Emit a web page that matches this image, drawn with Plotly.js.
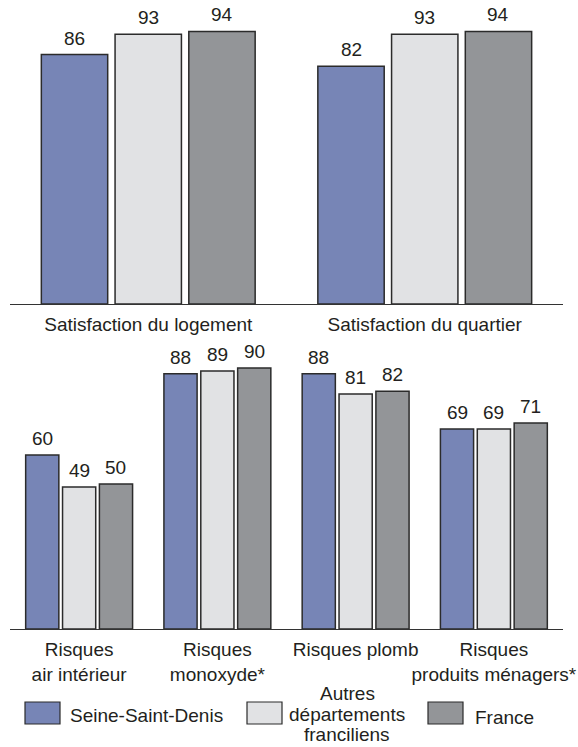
<!DOCTYPE html>
<html>
<head>
<meta charset="utf-8">
<script src="https://cdn.plot.ly/plotly-3.0.1.min.js"></script>
<style>
  html, body { margin: 0; padding: 0; background: #fff; }
  #chart { width: 578px; height: 747px; }
</style>
</head>
<body>
<div id="chart"></div>
<script>
// Categories
const catsTop = ['Satisfaction du logement', 'Satisfaction du quartier'];
const catsBottom = ['Risques<br>air intérieur', 'Risques<br>monoxyde*', 'Risques plomb', 'Risques<br>produits ménagers*'];

// Series (percentages)
const seriesNames = ['Seine-Saint-Denis', 'Autres<br>départements<br>franciliens', 'France'];
const ssdTop = [86, 82];
const idfTop = [93, 93];
const frTop = [94, 94];
const ssdBottom = [60, 88, 88, 69];
const idfBottom = [49, 89, 81, 69];
const frBottom = [50, 90, 82, 71];

const colors = ['#7785b6', '#e1e2e4', '#939598'];
const edge = '#2b2b2b';
const textColor = '#231f20';
const FONT = 'Liberation Sans, Arial, sans-serif';

const W = 578, H = 747;
const M = { l: 10, r: 15, t: 0, b: 118 };
const PW = W - M.l - M.r, PH = H - M.t - M.b;
const BARGAP = 0.2, GROUPGAP = 0.1;
// pixel -> paper helpers for the hand-drawn legend
const px = x => (x - M.l) / PW;
const py = y => (H - M.b - y) / PH;

function barTrace(cats, vals, i, xa, ya) {
  return {
    type: 'bar', x: cats, y: vals, xaxis: xa, yaxis: ya,
    name: seriesNames[i], showlegend: false,
    marker: { color: colors[i], line: { color: edge, width: 1.5 } },
    hoverinfo: 'skip'
  };
}

const panels = [
  { cats: catsTop, series: [ssdTop, idfTop, frTop], xa: 'x', ya: 'y' },
  { cats: catsBottom, series: [ssdBottom, idfBottom, frBottom], xa: 'x2', ya: 'y2' }
];

const data = [];
const valueLabels = [];
panels.forEach(p => {
  // horizontal distance between neighbouring bars of a group, in pixels
  const slot = PW / p.cats.length * (1 - BARGAP) / p.series.length;
  p.series.forEach((vals, i) => {
    data.push(barTrace(p.cats, vals, i, p.xa, p.ya));
    vals.forEach((v, k) => valueLabels.push({
      xref: p.xa, yref: p.ya, x: p.cats[k], y: v,
      xshift: (i - (p.series.length - 1) / 2) * slot, yshift: 4,
      xanchor: 'center', yanchor: 'bottom', showarrow: false,
      text: String(v), font: { family: FONT, size: 19, color: textColor }
    }));
  });
});

const xCommon = {
  showline: true, linecolor: '#333', linewidth: 1.2,
  showgrid: false, zeroline: false, ticks: '', tickangle: 0,
  ticklabelstandoff: 3,
  tickfont: { family: FONT, size: 19, color: textColor },
  fixedrange: true
};
const yCommon = { visible: false, showgrid: false, zeroline: false, fixedrange: true };

// legend swatches and labels
const swatches = [[25, 60], [247, 282], [428, 463]];
const shapes = swatches.map((s, i) => ({
  type: 'rect', xref: 'paper', yref: 'paper',
  x0: px(s[0]), x1: px(s[1]), y0: py(724), y1: py(702),
  fillcolor: colors[i], line: { color: edge, width: 1.2 }
}));
// the middle entry is set on three tighter lines
const midLines = seriesNames[1].split('<br>');
const legendLabels = [
  { x: px(69), y: py(715), xanchor: 'left', yanchor: 'middle', text: seriesNames[0] },
  { x: px(474), y: py(717), xanchor: 'left', yanchor: 'middle', text: seriesNames[2] }
].concat(midLines.map((t, j) => ({
  x: px(347), y: py(694 + j * 20), xanchor: 'center', yanchor: 'middle', text: t
}))).map(a => Object.assign({
  xref: 'paper', yref: 'paper', showarrow: false, align: 'center', borderpad: 0,
  font: { family: FONT, size: 19, color: textColor }
}, a));

const layout = {
  width: W, height: H, margin: M,
  paper_bgcolor: '#fff', plot_bgcolor: '#fff',
  barmode: 'group', bargap: BARGAP, bargroupgap: GROUPGAP,
  showlegend: false,
  font: { family: FONT, size: 19, color: textColor },
  xaxis: Object.assign({ domain: [0, 1], anchor: 'y' }, xCommon),
  yaxis: Object.assign({ domain: [(PH - 304) / PH, 1], range: [0, 304 / 2.9], anchor: 'x' }, yCommon),
  xaxis2: Object.assign({ domain: [0, 1], anchor: 'y2' }, xCommon),
  yaxis2: Object.assign({ domain: [0, 290 / PH], range: [0, 100], anchor: 'x2' }, yCommon),
  shapes: shapes,
  annotations: valueLabels.concat(legendLabels)
};

Plotly.newPlot('chart', data, layout, { displayModeBar: false, staticPlot: true });
</script>
</body>
</html>
